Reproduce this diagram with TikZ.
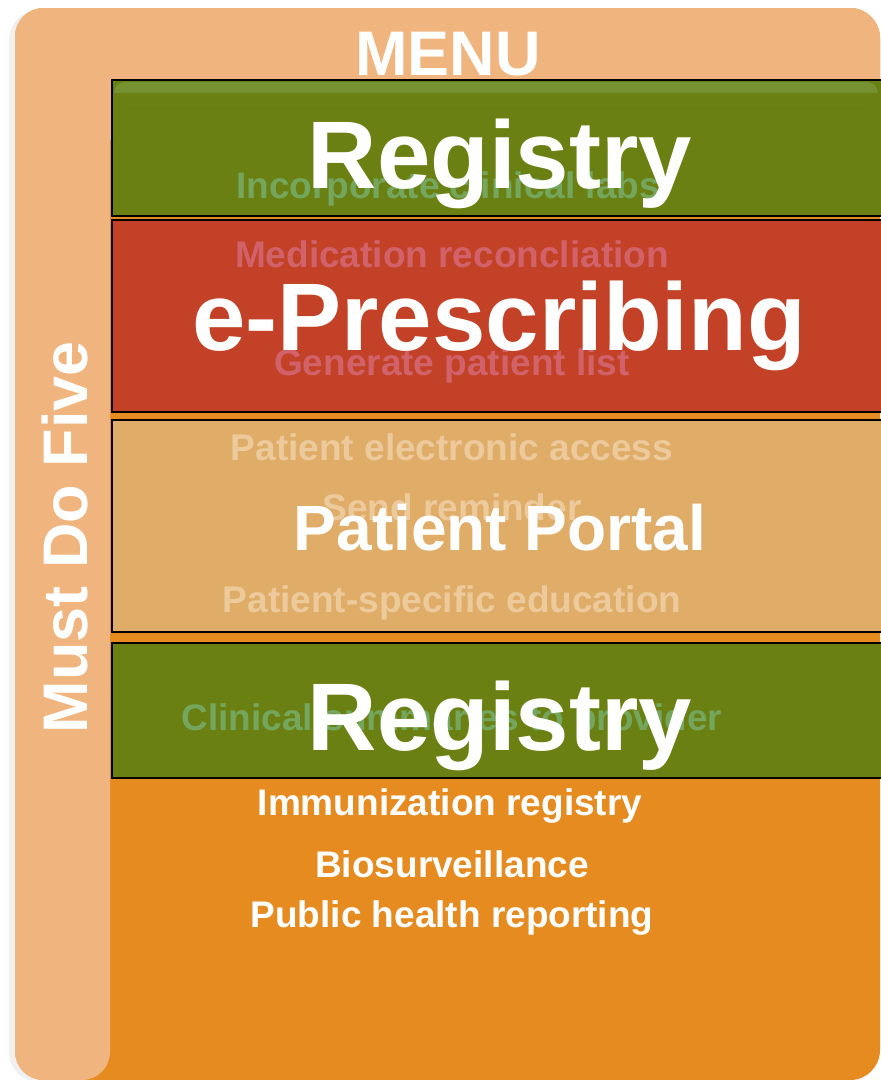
\documentclass[tikz,border=0pt]{standalone}
\usepackage{fontspec}
\setmainfont{Liberation Sans}
\definecolor{menulight}{RGB}{240,180,126}
\definecolor{menuorange}{RGB}{229,139,31}
\definecolor{reggreen}{RGB}{106,128,18}
\definecolor{reggloss}{RGB}{118,145,48}
\definecolor{rxred}{RGB}{195,66,39}
\definecolor{portaltan}{RGB}{224,173,104}
\definecolor{fadegreen}{RGB}{116,166,94}
\definecolor{fadered}{RGB}{210,98,106}
\definecolor{fadetan}{RGB}{236,202,156}
\begin{document}
\begin{tikzpicture}[x=1pt,y=-1pt]
  \tikzstyle{band}=[draw=black,line width=2pt]
  \tikzstyle{title}=[text=white,anchor=base,inner sep=0pt,font=\bfseries\fontsize{63}{66}\selectfont]
  \tikzstyle{biglabel}=[text=white,anchor=base,inner sep=0pt,font=\bfseries\fontsize{96}{100}\selectfont]
  \tikzstyle{midlabel}=[biglabel,font=\bfseries\fontsize{64}{66}\selectfont]
  \tikzstyle{item}=[anchor=base,inner sep=0pt,font=\bfseries\fontsize{37}{40}\selectfont]
  \useasboundingbox (0,0) rectangle (881,1080);
  % frame
  \fill[black!6,rounded corners=30] (9,10) rectangle (879,1082);
  \fill[menuorange,rounded corners=30] (15,8) rectangle (880,1080);
  \fill[menulight,rounded corners=30] (15,8) rectangle (880,140);
  \fill[menulight,rounded corners=28] (15,8) rectangle (110,1080);
  % bands
  \path[band,fill=reggreen] (112,80) rectangle (886,216);
  \fill[reggloss,rounded corners=11] (114,82) rectangle (878,104);
  \fill[reggreen] (114,93) rectangle (886,104);
  \path[band,fill=rxred] (112,220) rectangle (886,412);
  \path[band,fill=portaltan] (112,420) rectangle (886,632);
  \path[band,fill=reggreen] (112,643) rectangle (886,778);
  % faded menu items
  \node[item,text=fadegreen] (labs) at (448,198) {Incorporate clinical labs};
  \node[item,text=fadered] (medrec) at (452,267) {Medication reconcliation};
  \node[item,text=fadered] (ptlist) at (452,375) {Generate patient list};
  \node[item,text=fadetan] (access) at (452,460) {Patient electronic access};
  \node[item,text=fadetan] (remind) at (452,520) {Send reminder};
  \node[item,text=fadetan] (educ) at (452,612) {Patient-specific education};
  \node[item,text=fadegreen] (summ) at (452,730) {Clinical summaries to provider};
  % titles
  \node[title] (menu) at (448,75) {MENU};
  \node[title,anchor=center,rotate=90] (five) at (65,537) {Must Do Five};
  \node[biglabel] (reg1) at (500,188) {Registry};
  \node[biglabel] (erx) at (499,350) {e-Prescribing};
  \node[midlabel] (portal) at (500,550) {Patient Portal};
  \node[biglabel] (reg2) at (500,750) {Registry};
  % public health items
  \node[item,text=white] (immun) at (450,815) {Immunization registry};
  \node[item,text=white] (bio) at (452,877) {Biosurveillance};
  \node[item,text=white] (pubh) at (452,927) {Public health reporting};
\end{tikzpicture}
\end{document}
